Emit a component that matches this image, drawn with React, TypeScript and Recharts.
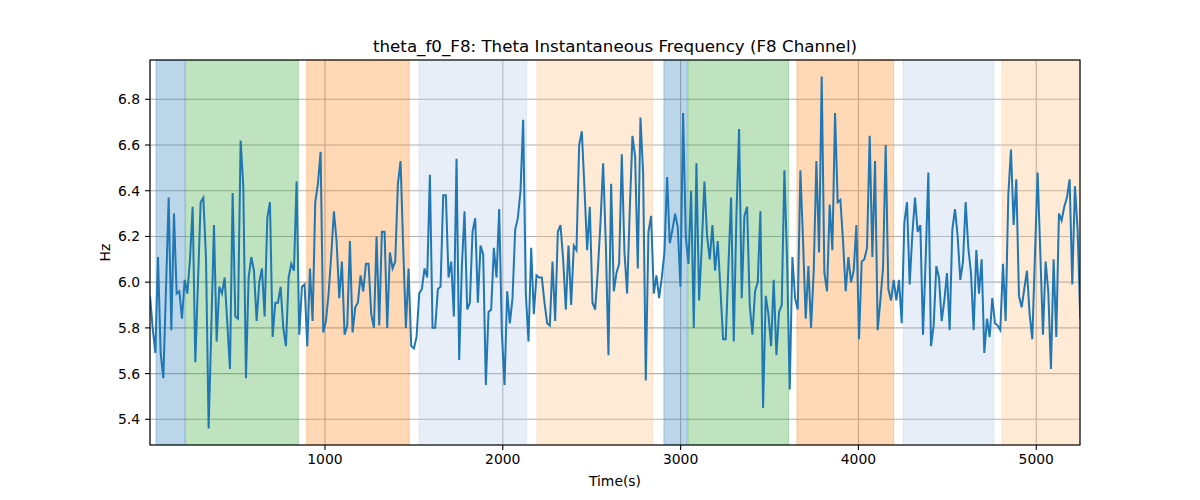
import {
  LineChart,
  Line,
  XAxis,
  YAxis,
  CartesianGrid,
  ReferenceArea,
} from 'recharts';

// sampling of the signal (seconds)
const startTime = 16;
const stepTime = 14.99;

// instantaneous theta frequency (Hz)
const freqValues = [
  5.94, 5.80, 5.69, 6.11, 5.69, 5.58, 5.97, 6.37, 5.79, 6.30,
  5.95, 5.96, 5.84, 6.01, 5.95, 6.10, 6.33, 5.65, 6.00, 6.35,
  6.37, 6.11, 5.36, 5.80, 6.25, 5.74, 5.98, 5.95, 6.02, 5.82,
  5.62, 6.39, 5.85, 5.84, 6.62, 6.42, 5.58, 6.02, 6.11, 6.05,
  5.83, 6.00, 6.06, 5.85, 6.28, 6.35, 5.76, 5.91, 5.91, 5.98,
  5.80, 5.72, 6.02, 6.08, 6.05, 6.44, 5.77, 5.98, 5.99, 5.72,
  6.06, 5.83, 6.35, 6.43, 6.57, 5.78, 5.83, 5.95, 6.12, 6.31,
  6.18, 5.93, 6.09, 5.77, 5.81, 6.18, 5.78, 5.89, 5.91, 6.03,
  5.96, 6.08, 6.08, 5.86, 5.80, 6.20, 5.81, 6.22, 6.22, 5.80,
  6.13, 6.06, 6.09, 6.43, 6.53, 6.15, 5.80, 6.06, 5.72, 5.71,
  5.76, 5.95, 5.97, 6.06, 6.02, 6.47, 5.80, 5.80, 5.97, 5.98,
  6.38, 6.38, 6.02, 6.09, 5.85, 6.54, 5.66, 6.07, 6.31, 5.88,
  5.91, 6.22, 6.28, 5.91, 6.16, 6.12, 5.55, 5.87, 5.88, 6.15,
  6.02, 6.32, 5.78, 5.55, 5.96, 5.82, 5.93, 6.23, 6.28, 6.40,
  6.71, 5.95, 5.74, 6.15, 5.86, 6.03, 6.02, 6.02, 5.91, 5.82,
  5.81, 6.09, 5.83, 6.22, 6.25, 6.10, 5.88, 6.16, 5.90, 6.16,
  6.14, 6.60, 6.66, 6.41, 6.14, 6.33, 5.91, 5.88, 6.05, 6.26,
  6.52, 6.17, 5.68, 6.43, 5.96, 6.04, 6.08, 6.56, 6.13, 5.95,
  6.32, 6.64, 6.55, 6.06, 6.72, 6.48, 5.57, 6.22, 6.29, 5.95,
  6.03, 5.93, 6.02, 6.13, 6.46, 6.17, 6.23, 6.30, 6.24, 5.98,
  6.74, 6.20, 6.08, 6.40, 5.80, 6.52, 5.92, 6.16, 6.44, 6.20,
  6.10, 6.25, 6.05, 6.18, 5.97, 5.75, 5.75, 6.07, 6.37, 5.74,
  6.29, 6.67, 5.93, 6.29, 6.33, 5.90, 5.77, 5.96, 6.00, 6.31,
  5.45, 5.94, 5.86, 5.72, 6.01, 5.68, 5.87, 5.90, 6.49, 6.10,
  5.53, 6.11, 5.93, 5.88, 6.49, 6.18, 5.84, 6.07, 5.80, 6.05,
  6.53, 6.13, 6.90, 6.04, 5.96, 6.34, 6.14, 6.74, 6.35, 6.36,
  6.18, 5.96, 6.11, 6.00, 6.05, 6.25, 5.75, 6.09, 6.10, 6.15,
  6.64, 6.11, 6.53, 5.79, 5.92, 6.06, 6.60, 5.97, 5.92, 6.01,
  5.92, 6.01, 5.82, 6.26, 6.35, 5.99, 6.21, 6.37, 6.22, 6.25,
  5.77, 6.10, 6.48, 5.72, 5.81, 6.07, 6.02, 5.83, 5.92, 6.04,
  5.79, 6.23, 6.32, 6.20, 6.01, 6.09, 6.35, 6.15, 6.04, 5.79,
  6.14, 5.95, 6.10, 5.69, 5.84, 5.76, 5.93, 5.82, 5.81, 5.79,
  6.08, 5.83, 6.38, 6.58, 6.25, 6.45, 5.94, 5.89, 5.97, 6.05,
  5.86, 5.75, 6.12, 6.48, 6.13, 5.77, 6.09, 5.96, 5.62, 6.10,
  5.76, 6.30, 6.27, 6.33, 6.37, 6.45, 5.99, 6.42, 6.23, 5.84,
];

// shaded segments: start, end (s) and colour
const bandStarts = [50, 216, 897, 1529, 2192, 2906, 3041, 3654, 4251, 4807];
const bandEnds = [213, 850, 1474, 2134, 2843, 3037, 3608, 4198, 4762, 5246];
const bandColors = [
  '#1f77b4', '#2ca02c', '#ff7f0e', '#aec7e8', '#ffbb78',
  '#1f77b4', '#2ca02c', '#ff7f0e', '#aec7e8', '#ffbb78',
];

const xTicks = [1000, 2000, 3000, 4000, 5000];
const yTicks = [5.4, 5.6, 5.8, 6.0, 6.2, 6.4, 6.6, 6.8];

const chartData = freqValues.map((hz, i) => ({
  time: startTime + i * stepTime,
  hz,
}));

const font = 'DejaVu Sans, sans-serif';
const tickStyle = { fontSize: 13.9, fill: '#000', fontFamily: font };

function App() {
  return (
    <div
      style={{
        position: 'absolute',
        left: 0,
        top: 0,
        width: 1200,
        height: 500,
        background: '#fff',
      }}
    >
      <LineChart
        width={1200}
        height={500}
        data={chartData}
        margin={{ top: 60, right: 120, bottom: 25, left: 0 }}
      >
        {bandStarts.map((start, i) => (
          <ReferenceArea
            key={`band-${i}`}
            x1={start}
            x2={bandEnds[i]}
            fill={bandColors[i]}
            fillOpacity={0.3}
            stroke={bandColors[i]}
            strokeOpacity={0.3}
            strokeWidth={1}
            ifOverflow="hidden"
          />
        ))}
        <CartesianGrid stroke="#b0b0b0" strokeWidth={1.1} />
        <XAxis
          dataKey="time"
          type="number"
          domain={[16, 5246]}
          ticks={xTicks}
          allowDataOverflow
          height={30}
          axisLine={false}
          tickSize={5}
          tickMargin={4}
          tickLine={{ stroke: '#000', strokeWidth: 1.1 }}
          tick={tickStyle}
        />
        <YAxis
          type="number"
          domain={[5.2875, 6.972]}
          ticks={yTicks}
          allowDataOverflow
          width={150}
          axisLine={false}
          tickSize={5}
          tickMargin={5}
          tickLine={{ stroke: '#000', strokeWidth: 1.1 }}
          tick={tickStyle}
          tickFormatter={(v: number) => v.toFixed(1)}
        />
        <Line
          type="linear"
          dataKey="hz"
          stroke="#1f77b4"
          strokeWidth={2}
          dot={false}
          isAnimationActive={false}
        />
      </LineChart>
      <svg
        width={1200}
        height={500}
        style={{ position: 'absolute', left: 0, top: 0, pointerEvents: 'none' }}
      >
        <rect x={150} y={60} width={930} height={385} fill="none" stroke="#000" strokeWidth={1.1} />
        <text x={615} y={52} textAnchor="middle" fontSize={16.7} fontFamily={font} fill="#000">
          theta_f0_F8: Theta Instantaneous Frequency (F8 Channel)
        </text>
        <text x={615} y={486} textAnchor="middle" fontSize={13.9} fontFamily={font} fill="#000">
          Time(s)
        </text>
        <text
          x={110}
          y={252.5}
          textAnchor="middle"
          fontSize={13.9}
          fontFamily={font}
          fill="#000"
          transform="rotate(-90, 110, 252.5)"
        >
          Hz
        </text>
      </svg>
    </div>
  );
}

export default App;
